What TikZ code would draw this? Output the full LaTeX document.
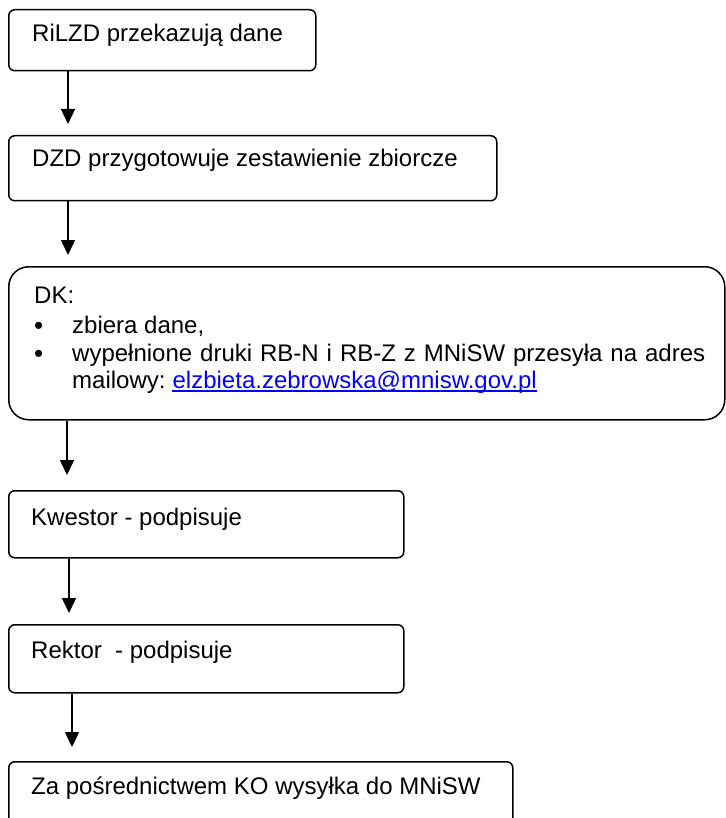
\documentclass[tikz,border=0pt]{standalone}
\usepackage{fontspec}
\setmainfont{Liberation Sans}
\usetikzlibrary{arrows.meta}
\definecolor{linkblue}{HTML}{0000FF}
\tikzset{
  flowbox/.style={draw=black, line width=1.5pt, rounded corners=6pt, anchor=north west, inner sep=0pt},
  bigbox/.style={flowbox, rounded corners=20pt},
  txt/.style={anchor=base west, inner sep=0pt, font=\fontsize{24}{28}\selectfont},
  arr/.style={line width=1.5pt, -{Triangle[length=15pt,width=14pt]}}
}
\begin{document}
\begin{tikzpicture}[x=1pt,y=-1pt]
\useasboundingbox (0,0) rectangle (725,818);
% boxes
\node[flowbox, minimum width=307pt, minimum height=61pt] (b1) at (8,9) {};
\node[flowbox, minimum width=488pt, minimum height=65pt] (b2) at (8,135) {};
\node[bigbox, minimum width=716pt, minimum height=153pt] (b3) at (8,266) {};
\node[flowbox, minimum width=395pt, minimum height=67pt] (b4) at (8,490) {};
\node[flowbox, minimum width=395pt, minimum height=68pt] (b5) at (8,624) {};
\node[flowbox, minimum width=504pt, minimum height=70pt] (b6) at (8,761) {};
% texts
\node[txt] (t1) at (32,42) {RiLZD przekazują dane};
\node[txt] (t2) at (32,167) {DZD przygotowuje zestawienie zbiorcze};
\node[txt] (t3) at (34,303) {DK:};
\node[txt, font=\fontsize{26}{28}\selectfont] (bu1) at (34,334) {•};
\node[txt] (t3a) at (72,333) {zbiera dane,};
\node[txt, font=\fontsize{26}{28}\selectfont] (bu2) at (34,362) {•};
\node[txt] (t3b) at (72,361) {\makebox[633pt][s]{wypełnione druki RB-N i RB-Z z MNiSW przesyła na adres}};
\node[txt] (t3c) at (72,388) {mailowy:};
\node[txt, text=linkblue] (link) at ([xshift=6.7pt]t3c.base east) {elzbieta.zebrowska@mnisw.gov.pl};
\draw[linkblue, line width=1.3pt] ([yshift=-3pt]link.base west) -- ([yshift=-3pt]link.base east);
\node[txt] (t4) at (31,525) {Kwestor - podpisuje};
\node[txt] (t5) at (31,658) {Rektor\ \ - podpisuje};
\node[txt] (t6) at (31,794) {Za pośrednictwem KO wysyłka do MNiSW};
% arrows
\draw[arr, shorten >=11pt] ([xshift=60pt]b1.south west) -- ([xshift=60pt]b2.north west);
\draw[arr, shorten >=11pt] ([xshift=60pt]b2.south west) -- ([xshift=60pt]b3.north west);
\draw[arr, shorten >=15pt] ([xshift=59pt]b3.south west) -- ([xshift=59pt]b4.north west);
\draw[arr, shorten >=11pt] ([xshift=61pt]b4.south west) -- ([xshift=61pt]b5.north west);
\draw[arr, shorten >=14pt] ([xshift=64pt]b5.south west) -- ([xshift=64pt]b6.north west);
\end{tikzpicture}
\end{document}
